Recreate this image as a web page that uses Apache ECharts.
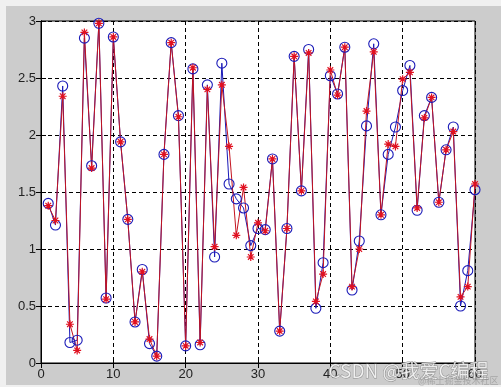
<!DOCTYPE html>
<html>
<head>
<meta charset="utf-8">
<script src="https://cdn.jsdelivr.net/npm/echarts@6/dist/echarts.min.js"></script>
<style>
html,body{margin:0;padding:0;background:#f0f0f0;}
#c{width:501px;height:387px;}
</style>
</head>
<body>
<div id="c"></div>
<script>
var xValues = [];
for (var k = 1; k <= 60; k++) xValues.push(k);
var actual = [1.40,1.21,2.43,0.18,0.20,2.85,1.73,2.98,0.57,2.86,
              1.94,1.26,0.36,0.82,0.17,0.06,1.83,2.81,2.17,0.15,
              2.58,0.16,2.44,0.93,2.63,1.57,1.44,1.36,1.03,1.18,
              1.17,1.79,0.28,1.18,2.69,1.51,2.75,0.48,0.88,2.52,
              2.36,2.77,0.64,1.07,2.08,2.80,1.30,1.83,2.07,2.39,
              2.61,1.34,2.17,2.33,1.41,1.87,2.07,0.50,0.81,1.52];
var predicted = [1.38,1.25,2.34,0.34,0.11,2.90,1.71,2.98,0.56,2.86,
                 1.94,1.26,0.36,0.80,0.21,0.06,1.83,2.81,2.16,0.15,
                 2.59,0.18,2.40,1.02,2.44,1.90,1.12,1.54,0.93,1.23,
                 1.16,1.79,0.28,1.18,2.69,1.51,2.72,0.54,0.78,2.57,
                 2.35,2.77,0.67,1.00,2.21,2.73,1.30,1.92,1.90,2.49,
                 2.55,1.36,2.15,2.33,1.41,1.87,2.03,0.58,0.67,1.57];
var xTicks = [0,10,20,30,40,50,60];
var yTicks = [0,0.5,1,1.5,2,2.5,3];

function pairs(arr){ return arr.map(function(v,i){ return [xValues[i], v]; }); }

var chart = echarts.init(document.getElementById('c'), null, {renderer:'canvas'});
var labelFont = {color:'#222', fontSize:13, fontFamily:'Liberation Sans, Arial, sans-serif'};
var star = 'path://M0,-10L0,10M-10,0L10,0M-7,-7L7,7M-7,7L7,-7';

chart.setOption({
  animation:false,
  backgroundColor:'transparent',
  graphic:[
    {type:'rect', z:-10, shape:{x:6,y:6,width:495,height:379}, style:{fill:'#cccccc'}},
    {type:'text', z:100, left:328, top:361, style:{text:'CSDN @我爱C编程', fill:'rgba(255,255,255,0.8)', stroke:'rgba(100,100,100,0.6)', lineWidth:1, font:'19px "Noto Sans CJK SC", sans-serif'}},
    {type:'text', z:100, left:418, top:376, style:{text:'@稀土掘金技术社区', fill:'rgba(120,120,120,0.45)', font:'9px "Noto Sans CJK SC", sans-serif'}}
  ],
  grid:{left:41, top:21, width:434, height:342, show:true, backgroundColor:'#ffffff', borderColor:'#000', borderWidth:1},
  xAxis:[{
    type:'value', min:xTicks[0], max:xTicks[xTicks.length-1], interval:10,
    axisLine:{show:true, onZero:false, lineStyle:{color:'#000'}},
    axisTick:{show:true, inside:true, length:5, lineStyle:{color:'#000'}},
    axisLabel:Object.assign({margin:5}, labelFont),
    splitLine:{show:true, lineStyle:{color:'#000', type:[4,3], width:1}}
  },{
    type:'value', position:'top', min:xTicks[0], max:xTicks[xTicks.length-1], interval:10,
    axisLine:{show:true, lineStyle:{color:'#000'}},
    axisTick:{show:true, inside:true, length:5, lineStyle:{color:'#000'}},
    axisLabel:{show:false}, splitLine:{show:false}
  }],
  yAxis:[{
    type:'value', min:yTicks[0], max:yTicks[yTicks.length-1], interval:0.5,
    axisLine:{show:true, onZero:false, lineStyle:{color:'#000'}},
    axisTick:{show:true, inside:true, length:5, lineStyle:{color:'#000'}},
    axisLabel:Object.assign({margin:5, formatter:function(v){return String(v);}}, labelFont),
    splitLine:{show:true, lineStyle:{color:'#000', type:[4,3], width:1}}
  },{
    type:'value', position:'right', min:yTicks[0], max:yTicks[yTicks.length-1], interval:0.5,
    axisLine:{show:true, lineStyle:{color:'#000'}},
    axisTick:{show:true, inside:true, length:5, lineStyle:{color:'#000'}},
    axisLabel:{show:false}, splitLine:{show:false}
  }],
  series:[{
    type:'line', name:'actual', data:pairs(actual),
    symbol:'circle', symbolSize:10, showAllSymbol:true,
    lineStyle:{color:'#1a1ab8', width:1},
    itemStyle:{color:'rgba(0,0,0,0)', borderColor:'#1a1ab8', borderWidth:1.1}
  },{
    type:'line', name:'predicted', data:pairs(predicted),
    symbol:star, symbolSize:8, showAllSymbol:true,
    lineStyle:{color:'#c41420', width:1},
    itemStyle:{color:'rgba(0,0,0,0)', borderColor:'#e01020', borderWidth:1.2}
  }]
});
</script>
</body>
</html>
